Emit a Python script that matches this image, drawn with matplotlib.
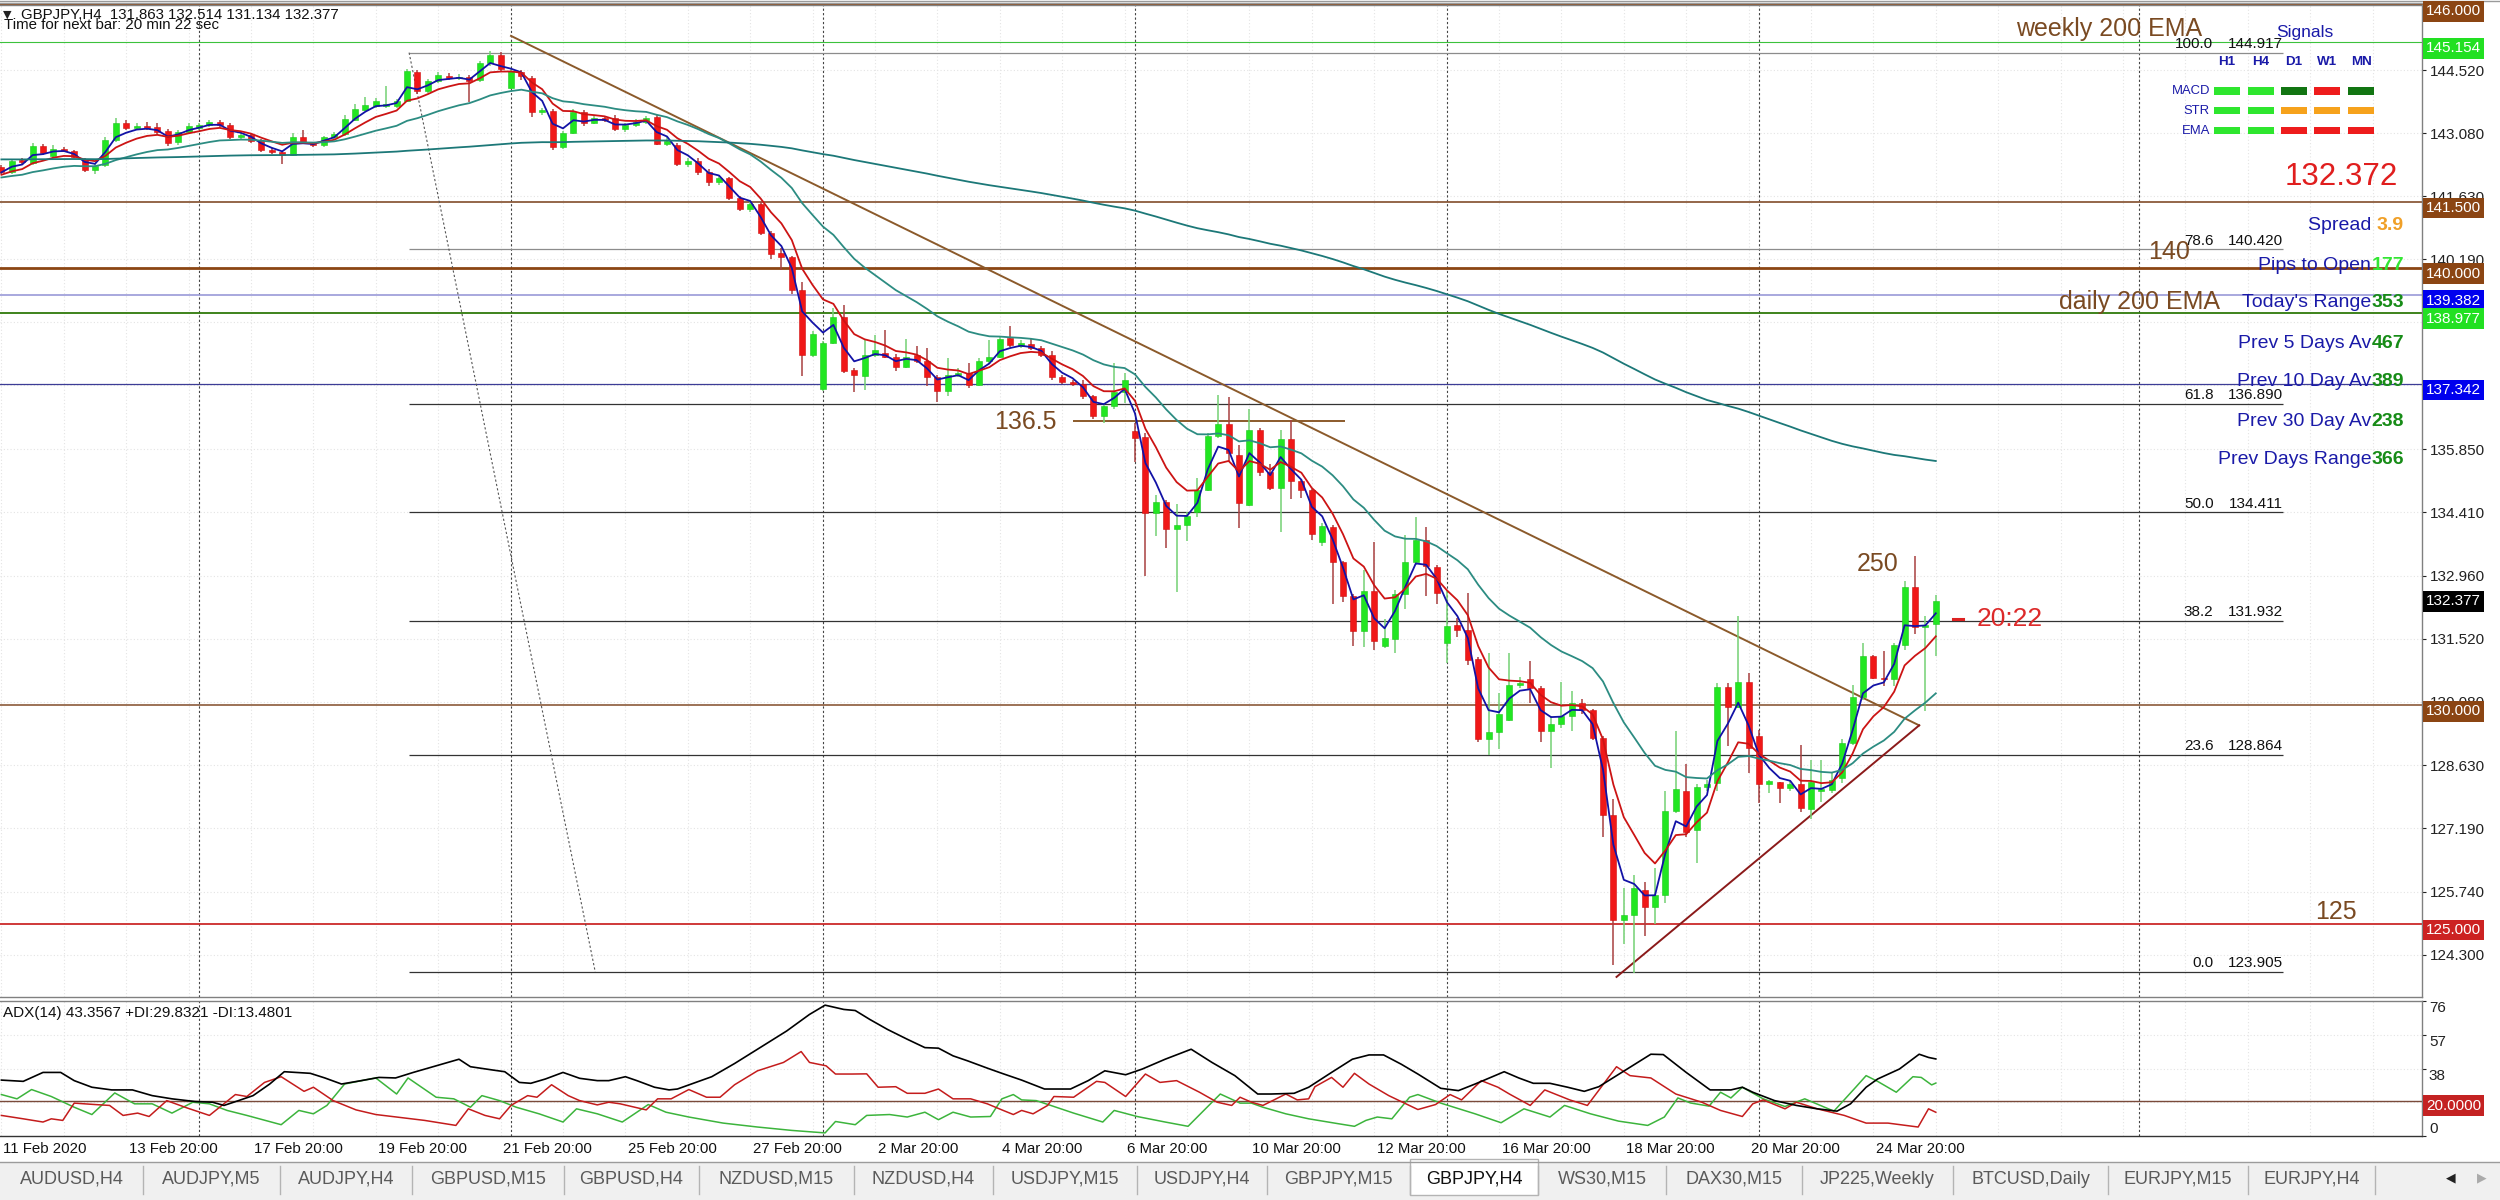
import numpy as np
import pandas as pd
import matplotlib
matplotlib.use('Agg')
import matplotlib.pyplot as plt
from matplotlib import transforms
from matplotlib.patches import Rectangle
from matplotlib.lines import Line2D

plt.rcParams['font.family'] = ['Liberation Sans', 'DejaVu Sans']

# ---------------- data (GBPJPY H4, bar 0 = 11 Feb 20:00) ----------------
opens = [142.30, 142.20, 142.47, 142.39, 142.79, 142.55, 142.72, 142.66, 142.47, 142.23,
         142.35, 142.92, 143.32, 143.19, 143.24, 143.22, 143.13, 142.87, 143.11, 143.20,
         143.27, 143.33, 143.27, 143.00, 143.03, 142.90, 142.69, 142.64, 142.58, 143.00,
         142.85, 142.81, 142.98, 143.06, 143.38, 143.61, 143.70, 143.70, 143.70, 143.82,
         144.47, 144.03, 144.26, 144.39, 144.33, 144.35, 144.30, 144.68, 144.87, 144.11,
         144.47, 144.34, 143.57, 143.59, 142.77, 143.09, 143.56, 143.31, 143.42, 143.42,
         143.17, 143.27, 143.34, 143.45, 142.84, 142.80, 142.38, 142.45, 142.20, 141.95,
         142.05, 141.60, 141.35, 141.45, 140.80, 140.33, 140.25, 139.49, 138.01, 137.23,
         138.29, 138.87, 137.67, 137.53, 138.01, 138.05, 137.97, 137.73, 138.01, 137.86,
         137.51, 137.19, 137.55, 137.59, 137.32, 137.88, 137.97, 138.40, 138.21, 138.26,
         138.16, 138.01, 137.50, 137.38, 137.35, 137.06, 136.60, 136.83, 137.17, 136.26,
         136.13, 134.40, 134.65, 134.02, 134.11, 134.41, 134.93, 136.16, 136.43, 135.73,
         134.58, 136.30, 135.33, 134.97, 136.09, 135.12, 134.91, 133.72, 134.08, 133.27,
         132.50, 131.69, 132.61, 131.36, 131.51, 132.55, 133.27, 133.77, 133.15, 131.42,
         131.84, 131.72, 131.05, 129.23, 129.39, 129.66, 130.47, 130.59, 130.40, 129.41,
         129.57, 129.75, 130.05, 129.88, 129.25, 127.49, 125.09, 125.21, 125.77, 125.39,
         125.66, 127.58, 128.05, 127.15, 128.14, 128.23, 130.42, 129.97, 130.54, 129.30,
         128.21, 128.24, 128.11, 128.21, 127.63, 128.05, 128.07, 128.34, 129.14, 130.19,
         131.12, 130.63, 130.59, 131.37, 132.71, 131.79, 131.863]
highs = [142.36, 142.48, 142.52, 142.85, 142.84, 142.80, 142.77, 142.70, 142.50, 142.38,
         143.00, 143.42, 143.37, 143.30, 143.33, 143.30, 143.18, 143.15, 143.30, 143.32,
         143.38, 143.37, 143.32, 143.10, 143.08, 142.95, 142.74, 142.68, 143.08, 143.14,
         142.88, 143.02, 143.10, 143.50, 143.75, 143.90, 143.87, 144.15, 143.86, 144.55,
         144.52, 144.32, 144.47, 144.45, 144.43, 144.40, 144.72, 144.95, 144.93, 144.55,
         144.52, 144.38, 143.66, 143.64, 143.13, 143.62, 143.60, 143.48, 143.46, 143.50,
         143.32, 143.40, 143.48, 143.50, 142.98, 142.85, 142.50, 142.50, 142.25, 142.12,
         142.08, 141.65, 141.52, 141.50, 140.85, 140.45, 140.28, 139.68, 138.55, 138.33,
         139.07, 139.15, 137.70, 138.35, 138.46, 138.58, 138.02, 138.37, 138.21, 138.16,
         137.55, 137.93, 137.70, 137.82, 137.93, 138.35, 138.45, 138.67, 138.35, 138.37,
         138.21, 138.10, 137.55, 137.44, 137.44, 137.10, 136.90, 137.82, 137.59, 136.45,
         136.22, 134.80, 134.70, 134.60, 134.41, 135.20, 136.22, 137.10, 137.05, 135.95,
         136.78, 136.34, 135.51, 136.30, 136.52, 135.15, 134.95, 134.17, 134.12, 133.30,
         132.55, 133.09, 133.72, 131.96, 132.64, 133.90, 134.31, 134.08, 133.20, 132.62,
         131.99, 132.57, 131.10, 131.19, 130.29, 131.19, 130.65, 131.01, 130.45, 129.75,
         130.52, 130.33, 130.15, 129.92, 129.30, 127.85, 125.82, 126.13, 125.95, 126.27,
         128.03, 129.41, 128.65, 128.21, 128.30, 130.51, 130.51, 132.03, 130.74, 129.43,
         128.30, 128.25, 128.26, 129.10, 128.75, 128.75, 128.45, 129.22, 130.47, 131.43,
         131.15, 131.25, 131.43, 132.84, 133.41, 132.03, 132.514]
lows = [142.14, 142.15, 142.38, 142.35, 142.58, 142.50, 142.64, 142.50, 142.18, 142.15,
        142.30, 142.88, 143.15, 143.15, 143.15, 143.05, 142.78, 142.80, 143.06, 143.15,
        143.22, 143.22, 142.95, 142.92, 142.85, 142.64, 142.60, 142.38, 142.55, 142.82,
        142.77, 142.76, 142.94, 143.02, 143.35, 143.58, 143.66, 143.66, 143.65, 143.78,
        143.98, 144.00, 144.22, 144.30, 144.30, 143.80, 144.25, 144.62, 144.50, 144.08,
        144.30, 143.45, 143.50, 142.70, 142.72, 143.05, 143.25, 143.28, 143.34, 143.12,
        143.10, 143.22, 143.28, 142.80, 142.78, 142.32, 142.30, 142.12, 141.88, 141.90,
        141.55, 141.30, 141.28, 140.75, 140.21, 139.95, 139.41, 137.53, 137.95, 137.18,
        138.25, 137.60, 137.17, 137.20, 137.95, 137.93, 137.65, 137.70, 137.82, 137.29,
        136.94, 137.06, 137.50, 137.25, 137.29, 137.80, 137.93, 138.20, 138.16, 138.12,
        137.97, 137.44, 137.35, 137.30, 137.00, 136.55, 136.45, 136.78, 136.90, 135.57,
        132.95, 133.86, 133.60, 132.59, 133.75, 134.30, 134.90, 136.10, 135.57, 134.05,
        134.55, 135.25, 134.91, 133.95, 134.72, 134.73, 133.77, 133.63, 132.32, 132.36,
        131.36, 131.33, 131.27, 131.31, 131.20, 132.19, 133.20, 132.50, 132.32, 130.97,
        131.56, 130.92, 129.16, 128.87, 129.01, 129.64, 130.40, 130.05, 129.16, 128.57,
        129.47, 129.42, 129.79, 129.20, 126.99, 124.06, 124.55, 123.88, 124.73, 125.00,
        125.48, 127.53, 126.99, 126.40, 128.05, 128.03, 129.07, 129.93, 128.44, 127.77,
        127.99, 127.77, 128.05, 127.57, 127.40, 127.78, 128.00, 128.22, 129.10, 130.13,
        130.59, 130.44, 130.44, 131.27, 131.62, 129.86, 131.134]
closes = [142.20, 142.44, 142.41, 142.79, 142.62, 142.72, 142.68, 142.53, 142.24, 142.33,
          142.92, 143.32, 143.19, 143.23, 143.20, 143.11, 142.85, 143.10, 143.24, 143.26,
          143.33, 143.27, 143.00, 143.04, 142.90, 142.69, 142.64, 142.58, 143.00, 142.86,
          142.81, 142.98, 143.06, 143.40, 143.62, 143.73, 143.82, 143.73, 143.82, 144.49,
          144.03, 144.26, 144.41, 144.34, 144.37, 144.26, 144.68, 144.87, 144.54, 144.49,
          144.38, 143.57, 143.61, 142.77, 143.08, 143.56, 143.31, 143.42, 143.38, 143.17,
          143.27, 143.34, 143.42, 142.84, 142.90, 142.38, 142.45, 142.20, 141.95, 142.05,
          141.60, 141.35, 141.45, 140.80, 140.32, 140.25, 139.49, 138.01, 138.49, 138.29,
          138.87, 137.65, 137.55, 138.01, 138.12, 137.97, 137.73, 137.97, 137.86, 137.51,
          137.19, 137.55, 137.59, 137.32, 137.88, 137.97, 138.37, 138.24, 138.27, 138.16,
          138.01, 137.50, 137.40, 137.35, 137.06, 136.60, 136.83, 137.17, 137.44, 136.11,
          134.40, 134.65, 134.02, 134.11, 134.32, 134.93, 136.16, 136.43, 135.76, 134.62,
          136.30, 135.33, 134.97, 136.09, 135.12, 134.91, 133.92, 134.10, 133.27, 132.50,
          131.69, 132.61, 131.46, 131.53, 132.55, 133.27, 133.77, 133.18, 132.57, 131.82,
          131.72, 131.04, 129.23, 129.39, 129.79, 130.47, 130.51, 130.40, 129.41, 129.57,
          129.75, 130.05, 129.88, 129.25, 127.49, 125.09, 125.21, 125.82, 125.39, 125.66,
          127.58, 128.08, 127.11, 128.14, 128.21, 130.42, 129.97, 130.54, 129.02, 128.19,
          128.26, 128.11, 128.21, 127.65, 128.25, 128.07, 128.30, 129.14, 130.19, 131.12,
          130.63, 130.59, 131.37, 132.71, 131.79, 131.84, 132.377]

# moving averages on the chart: spans and their value just before the first visible bar
ma_spans = [3, 7, 21, 200]
ma_seeds = [142.16, 142.10, 142.05, 142.48]
ma_colors = ['#1212a6', '#cc1414', '#2c8c82', '#1c7878']

# horizontal objects
lvl_prices = [146.0, 145.154, 141.5, 140.0, 139.382, 138.977, 137.342, 130.0, 125.0]
lvl_colors = ['#8B4513', '#3cc23c', '#8B5a3a', '#8B4513', '#9a9ad8', '#2f7a0a', '#3c3c96', '#8B5a3a', '#cc2a2a']
lvl_widths = [1.4, 0.8, 1.3, 2.0, 1.2, 1.3, 0.9, 1.2, 1.3]
box_prices = [146.0, 145.154, 141.5, 140.0, 139.382, 138.977, 137.342, 130.0, 125.0]
box_colors = ['#8B4513', '#22e022', '#8B4513', '#8B4513', '#0000ee', '#22e022', '#0000ee', '#8B4513', '#cc2222']
bid = 132.377

fib_levels = ['100.0', '78.6', '61.8', '50.0', '38.2', '23.6', '0.0']
fib_prices = [144.917, 140.420, 136.890, 134.411, 131.932, 128.864, 123.905]
fib_colors = ['#8c8c8c', '#8c8c8c', '#333333', '#333333', '#333333', '#333333', '#333333']

price_ticks = [144.520, 143.080, 141.630, 140.190, 138.750, 137.310, 135.850,
               134.410, 132.960, 131.520, 130.080, 128.630, 127.190, 125.740, 124.300]

# ADX(14) lines, (bar, value) pairs
adx_t = [0.0, 2.1, 4.0, 5.7, 7.0, 8.7, 10.6, 12.6, 14.5, 16.4, 18.6, 20.3, 21.4, 22.8, 24.2, 25.8, 27.2, 29.7,
         31.1, 32.7, 34.6, 36.3, 37.9, 39.6, 41.8, 44.0, 45.1, 47.3, 48.4, 49.8, 50.9, 52.3, 54.0, 55.6, 57.3,
         58.4, 60.0, 61.1, 62.8, 64.2, 65.0, 66.1, 68.3, 70.5, 72.7, 75.5, 77.7, 79.2, 81.0, 82.1, 83.5, 85.2,
         87.1, 88.8, 90.1, 91.5, 92.9, 94.8, 96.2, 98.1, 100.3, 102.8, 104.5, 106.1, 108.1, 109.7, 111.9, 114.4,
         116.4, 118.6, 120.8, 122.1, 124.3, 125.7, 127.9, 129.9, 131.5, 132.9, 134.6, 136.2, 138.4, 140.1, 141.7,
         144.5, 145.9, 147.3, 148.9, 150.6, 152.2, 153.6, 155.8, 158.6, 159.8, 162.0, 164.3, 166.3, 167.4, 168.4,
         170.5, 172.6, 174.6, 176.5, 177.8, 179.3, 180.4, 182.5, 184.4, 185.3, 186.0]
adx_v = [31.5, 30.8, 35.8, 35.8, 31.2, 27.5, 26.0, 26.0, 22.8, 21.0, 19.5, 19.1, 17.3, 20.0, 22.8, 29.3, 36.2, 35.3,
         32.7, 29.3, 31.2, 33.0, 32.7, 35.8, 39.5, 43.2, 39.0, 37.1, 36.2, 30.2, 29.7, 32.1, 35.8, 32.5, 31.2,
         31.2, 33.4, 31.2, 27.5, 26.0, 26.5, 28.8, 33.4, 40.8, 48.8, 59.0, 68.3, 73.5, 71.1, 70.5, 65.5, 59.9,
         54.4, 49.7, 49.4, 45.1, 42.3, 38.2, 35.3, 31.5, 26.5, 26.5, 31.2, 36.7, 34.5, 37.7, 43.2, 48.8,
         41.4, 34.0, 23.7, 23.7, 24.1, 27.5, 35.8, 43.2, 45.6, 45.6, 40.4, 34.9, 26.9, 25.6, 29.3,
         36.2, 32.7, 29.7, 29.7, 27.5, 25.2, 27.8, 35.8, 46.0, 45.8, 35.8, 26.0, 26.0, 27.5, 24.7,
         20.0, 17.3, 15.4, 14.1, 18.2, 27.5, 32.1, 37.7, 46.0, 44.2, 43.36]
pdi_t = [0.0, 1.5, 2.9, 4.8, 7.0, 8.7, 10.9, 12.8, 14.5, 16.4, 18.4, 20.0, 21.7, 23.6, 26.9, 28.6, 30.0, 31.3,
         33.0, 34.9, 36.0, 38.0, 39.1, 41.8, 43.5, 45.1, 46.2, 47.9, 49.5, 51.7, 54.0, 55.3, 57.3, 59.7, 62.2,
         63.9, 66.1, 69.4, 72.7, 76.0, 79.2, 80.2, 82.1, 83.2, 85.4, 87.1, 88.8, 90.1, 91.5, 93.2, 95.1, 96.2,
         97.3, 98.1, 99.5, 100.9, 103.1, 105.9, 107.0, 109.2, 111.9, 114.1, 116.1, 117.2, 119.1, 120.2, 121.3,
         123.5, 125.7, 128.5, 130.1, 131.2, 132.3, 133.7, 135.4, 136.2, 138.4, 141.7, 144.2, 146.4, 148.9,
         150.3, 152.8, 155.5, 158.3, 159.9, 161.2, 162.4, 164.2, 165.3, 166.3, 167.4, 169.4, 171.5, 173.4,
         176.2, 178.3, 179.3, 180.4, 182.2, 183.8, 184.6, 185.6, 186.0]
pdi_v = [23.4, 21.0, 26.2, 22.3, 16.3, 12.2, 24.3, 18.2, 18.2, 13.0, 19.1, 18.2, 14.5, 11.7, 6.5, 14.5, 12.6, 17.3,
         29.3, 31.5, 32.7, 23.7, 32.7, 21.9, 21.0, 16.3, 22.8, 20.0, 16.3, 12.6, 8.0, 15.4, 12.6, 8.0, 17.8,
         13.5, 10.8, 7.4, 5.2, 3.3, 1.9, 8.3, 6.5, 11.7, 12.2, 10.8, 13.5, 9.3, 13.5, 10.8, 11.1, 21.0,
         23.4, 20.4, 20.0, 17.3, 13.0, 8.0, 14.5, 11.1, 8.0, 5.6, 17.3, 23.7, 18.6, 18.6, 16.3,
         12.6, 9.8, 7.1, 5.6, 8.9, 10.8, 9.8, 21.9, 23.4, 18.6, 12.6, 7.6, 15.4, 10.8,
         17.3, 12.6, 8.5, 6.1, 10.8, 21.5, 18.7, 16.9, 24.7, 21.5, 27.5, 21.0, 16.7, 21.0,
         14.1, 27.5, 34.0, 30.8, 24.7, 33.4, 33.0, 28.8, 29.83]
mdi_t = [0.0, 2.1, 4.0, 4.8, 5.9, 7.0, 9.0, 10.4, 11.7, 13.1, 14.2, 15.9, 17.8, 20.0, 22.5, 23.6, 25.3, 26.9,
         29.1, 30.0, 31.9, 34.1, 36.0, 38.0, 40.7, 43.7, 44.9, 46.5, 47.9, 49.0, 50.6, 51.5, 52.9, 54.5, 55.6,
         57.3, 58.4, 59.5, 62.0, 63.1, 64.4, 66.1, 67.8, 69.1, 70.5, 72.7, 75.2, 76.9, 77.7, 79.3, 80.2, 81.8,
         83.2, 84.3, 86.0, 87.1, 88.8, 90.1, 91.5, 93.2, 94.8, 96.2, 97.3, 98.1, 99.2, 100.6, 101.2, 103.1,
         105.3, 106.1, 108.1, 110.0, 111.4, 113.0, 115.2, 116.9, 118.3, 119.1, 120.2, 121.3, 123.5, 124.6,
         125.7, 126.3, 127.9, 129.0, 130.1, 131.5, 133.4, 136.2, 137.9, 139.3, 140.4, 142.3, 143.9, 145.0,
         147.0, 148.4, 150.8, 152.5, 155.3, 156.6, 158.6, 161.0, 163.5, 165.3, 167.4, 168.4, 169.4, 171.5,
         172.6, 174.6, 177.2, 179.3, 181.4, 184.3, 185.3, 186.0]
mdi_v = [11.7, 9.8, 8.0, 9.8, 8.9, 18.6, 17.8, 17.3, 11.7, 13.0, 11.1, 20.0, 16.0, 11.7, 23.4, 22.3, 30.2, 33.4,
         25.2, 27.5, 20.0, 14.8, 12.2, 10.8, 8.9, 6.1, 15.4, 11.7, 9.8, 17.3, 22.8, 21.9, 28.9, 22.8, 20.0,
         17.6, 19.1, 18.2, 14.8, 21.0, 21.0, 26.2, 21.9, 21.9, 28.9, 36.7, 41.4, 47.5, 41.4, 39.5, 34.9, 34.9,
         35.0, 27.5, 27.8, 24.1, 24.1, 26.5, 21.0, 21.0, 18.2, 14.8, 12.2, 14.5, 12.6, 17.3, 22.3, 21.9,
         30.8, 30.2, 22.3, 34.9, 30.2, 31.2, 24.7, 19.1, 17.3, 21.9, 19.1, 17.3, 23.7, 20.4,
         21.0, 27.8, 33.0, 27.5, 35.3, 29.3, 22.8, 15.0, 17.8, 23.4, 20.4, 31.2, 27.5, 23.7,
         17.3, 26.0, 20.4, 17.3, 39.0, 34.0, 32.7, 23.7, 19.1, 14.5, 11.1, 18.2, 20.4, 15.4,
         19.1, 15.4, 11.7, 7.4, 7.4, 5.2, 15.4, 13.48]

date_labels = ['11 Feb 2020', '13 Feb 20:00', '17 Feb 20:00', '19 Feb 20:00', '21 Feb 20:00',
               '25 Feb 20:00', '27 Feb 20:00', '2 Mar 20:00', '4 Mar 20:00', '6 Mar 20:00',
               '10 Mar 20:00', '12 Mar 20:00', '16 Mar 20:00', '18 Mar 20:00', '20 Mar 20:00',
               '24 Mar 20:00']
week_starts = [19, 49, 79, 109, 139, 169, 205.5]

tabs = ['AUDUSD,H4', 'AUDJPY,M5', 'AUDJPY,H4', 'GBPUSD,M15', 'GBPUSD,H4', 'NZDUSD,M15',
        'NZDUSD,H4', 'USDJPY,M15', 'USDJPY,H4', 'GBPJPY,M15', 'GBPJPY,H4', 'WS30,M15',
        'DAX30,M15', 'JP225,Weekly', 'BTCUSD,Daily', 'EURJPY,M15', 'EURJPY,H4']
active_tab = 'GBPJPY,H4'

info_labels = ['Spread ', 'Pips to Open', "Today's Range", 'Prev 5 Days Av', 'Prev 10 Day Av',
               'Prev 30 Day Av', 'Prev Days Range']
info_values = ['3.9', '177', '353', '467', '389', '238', '366']
info_colors = ['#f0a028', '#33e633', '#178c17', '#178c17', '#178c17', '#178c17', '#178c17']

sig_cols = ['H1', 'H4', 'D1', 'W1', 'MN']
sig_rows = ['MACD', 'STR', 'EMA']
sig_state = [['#2ee62e', '#2ee62e', '#127512', '#ee1c1c', '#127512'],
             ['#2ee62e', '#2ee62e', '#f6a21c', '#f6a21c', '#f6a21c'],
             ['#2ee62e', '#2ee62e', '#ee1c1c', '#ee1c1c', '#ee1c1c']]

# ---------------- figure ----------------
W, H = 2500, 1200
fig = plt.figure(figsize=(25, 12), dpi=100)
fig.patch.set_facecolor('white')


def fx(px):
    return px / W


def fy(py):
    return 1 - py / H


XL = (-0.135, 232.75)
main_top, main_bot = 5, 997
adx_top, adx_bot = 1000.7, 1136.3
ax = fig.add_axes([0, fy(main_bot), fx(2422), (main_bot - main_top) / H])
axa = fig.add_axes([0, fy(adx_bot), fx(2422), (adx_bot - adx_top) / H])

for a in (ax, axa):
    a.set_xlim(*XL)
    a.set_facecolor('white')
    a.spines['left'].set_visible(False)
    for s in ('top', 'right', 'bottom'):
        a.spines[s].set_color('#808080')
        a.spines[s].set_linewidth(1.0)
    a.set_xticks([])
    for b in np.arange(0, 232, 6):
        a.axvline(b, color='#e4e4e4', lw=0.8, ls=(0, (1, 2)), zorder=0)
    for b in week_starts:
        a.axvline(b, color='#444444', lw=0.8, ls=(0, (2, 2)), zorder=1)
axa.spines['bottom'].set_color('#333333')

ax.set_ylim(123.331, 146.006)
ax.yaxis.tick_right()
ax.set_yticks(price_ticks)
ax.set_yticklabels(['%.3f' % t for t in price_ticks])
ax.tick_params(axis='y', direction='out', length=3, width=0.8, pad=3, labelsize=11,
               colors='#222222')
for t in price_ticks:
    ax.axhline(t, color='#e4e4e4', lw=0.8, ls=(0, (1, 2)), zorder=0)

# levels
for p, c, w in zip(lvl_prices, lvl_colors, lvl_widths):
    ax.axhline(p, color=c, lw=w, zorder=2, clip_on=False)

# fibonacci
for lv, p, c in zip(fib_levels, fib_prices, fib_colors):
    ax.hlines(p, 39.2, 219.4, color=c, lw=0.9, zorder=2)
    ax.text(212.7, p + 0.04, lv, ha='right', va='bottom', fontsize=11, color='#111111', zorder=6)
    ax.text(219.4, p + 0.04, '%.3f' % p, ha='right', va='bottom', fontsize=11, color='#111111', zorder=6)
ax.plot([39.2, 57.1], [fib_prices[0], fib_prices[-1]], color='#555555', lw=0.8, ls=(0, (2, 2)), zorder=2)

# trend lines
ax.plot([49.0, 184.4], [145.30, 129.54], color='#8b5a2b', lw=1.4, zorder=3)
ax.plot([155.3, 184.4], [123.79, 129.54], color='#8b1a1a', lw=1.4, zorder=3)
ax.hlines(136.5, 103.0, 129.2, color='#8b5a2b', lw=1.4, zorder=3)

# candles
o = np.array(opens)
h = np.array(highs)
l = np.array(lows)
c = np.array(closes)
idx = np.arange(len(c))
up = c >= o
bot = np.minimum(o, c)
hgt = np.maximum(np.abs(c - o), 0.035)
ax.vlines(idx[up], l[up], h[up], color='#74d174', lw=1.1, zorder=4)
ax.vlines(idx[~up], l[~up], h[~up], color='#a84040', lw=1.1, zorder=4)
ax.bar(idx[up], hgt[up], bottom=bot[up], width=0.56, color='#22e622', edgecolor='#1cc81c', lw=0.4, zorder=5)
ax.bar(idx[~up], hgt[~up], bottom=bot[~up], width=0.56, color='#f01818', edgecolor='#d01010', lw=0.4, zorder=5)

# moving averages
for span, seed, col in zip(ma_spans, ma_seeds, ma_colors):
    ema = pd.Series([seed] + closes).ewm(span=span, adjust=False).mean().iloc[1:].values
    ax.plot(idx, ema, color=col, lw=1.3, zorder=6)

# countdown
ax.plot([187.7, 188.6], [131.96, 131.96], color='#dd2222', lw=2.2, zorder=6)
ax.text(189.9, 131.96, '20:22', color='#dd2a2a', fontsize=19, ha='left', va='center', zorder=7)

# brown annotations
brown = '#7a4a22'
ax.text(101.5, 136.47, '136.5', color=brown, fontsize=18, ha='right', va='center', zorder=7)
ax.text(180.4, 133.22, '250', color=brown, fontsize=18, ha='center', va='center', zorder=7)
ax.text(224.5, 125.27, '125', color=brown, fontsize=18, ha='center', va='center', zorder=7)
ax.text(210.4, 140.37, '140', color=brown, fontsize=18, ha='right', va='center', zorder=7)
ax.text(211.6, 145.45, 'weekly 200 EMA', color=brown, fontsize=18, ha='right', va='center', zorder=7)
ax.text(213.3, 139.22, 'daily 200 EMA', color=brown, fontsize=18, ha='right', va='center', zorder=7)

# price boxes on the right scale
def price_box(axis, val, txt, col, dy_px):
    tr = transforms.blended_transform_factory(fig.transFigure, axis.transData)
    tr = transforms.offset_copy(tr, fig=fig, x=0, y=dy_px, units='dots')
    fig.text(fx(2426), val, txt, transform=tr, ha='left', va='center', fontsize=11, color='white',
             bbox=dict(boxstyle='square,pad=0.22', fc=col, ec='none'), zorder=10)


for p, col in zip(box_prices, box_colors):
    price_box(ax, p, '%.3f' % p, col, -6)
price_box(ax, bid, '%.3f' % bid, '#000000', 0)

# ---------------- ADX panel ----------------
axa.set_ylim(0, 76)
axa.yaxis.tick_right()
axa.set_yticks([0, 19, 38, 57, 76])
axa.set_yticklabels(['0', '19', '38', '57', '76'])
axa.tick_params(axis='y', direction='out', length=3, width=0.8, pad=2, labelsize=11, colors='#222222')
for lab in axa.get_yticklabels():
    lab.set_va('top')
axa.get_yticklabels()[0].set_va('bottom')
for t in (19, 38, 57):
    axa.axhline(t, color='#e4e4e4', lw=0.8, ls=(0, (1, 2)), zorder=0)
axa.axhline(20, color='#7a4a3a', lw=1.0, zorder=2)
axa.plot(adx_t, adx_v, color='#000000', lw=1.2, zorder=4)
axa.plot(pdi_t, pdi_v, color='#3cb43c', lw=1.1, zorder=3)
axa.plot(mdi_t, mdi_v, color='#c41c1c', lw=1.1, zorder=3)
price_box(axa, 20, '20.0000', '#c42222', -5)
fig.text(fx(3), fy(1013), 'ADX(14) 43.3567 +DI:29.8321 -DI:13.4801', fontsize=11, color='#111111',
         ha='left', va='center')

# time labels
trx = transforms.blended_transform_factory(axa.transData, fig.transFigure)
for k, lab in enumerate(date_labels):
    xb = 0.25 + 12 * k if k else 0.15
    fig.text(xb, fy(1149), lab, transform=trx, fontsize=10.8, color='#111111', ha='left', va='center')

# ---------------- header ----------------
fig.add_artist(Line2D([0, 1], [fy(1), fy(1)], color='#9a9a9a', lw=1.0))
fig.add_artist(Line2D([0, fx(2422)], [fy(3), fy(3)], color='#9a9a9a', lw=1.0))
fig.text(fx(3), fy(15), '\u25bc', fontsize=8, color='#222222', ha='left', va='center',
         family=['DejaVu Sans'])
fig.text(fx(21), fy(15), 'GBPJPY,H4  131.863 132.514 131.134 132.377', fontsize=10.8,
         color='#111111', ha='left', va='center')
fig.text(fx(4), fy(25), 'Time for next bar: 20 min 22 sec', fontsize=10.8, color='#111111',
         ha='left', va='center')

# ---------------- signals / info panel ----------------
navy = '#1a1aa8'
fig.text(fx(2305), fy(33), 'Signals', fontsize=12.5, color=navy, ha='center', va='center')
col_x = [2214, 2248, 2281, 2314, 2348]
row_y = [91, 110.5, 130.5]
for cx, name in zip(col_x, sig_cols):
    fig.text(fx(cx + 13), fy(62), name, fontsize=9.6, fontweight='bold', color=navy, ha='center', va='center')
for ry, name, states in zip(row_y, sig_rows, sig_state):
    fig.text(fx(2210), fy(ry), name, fontsize=9.4, color=navy, ha='right', va='center')
    for cx, col in zip(col_x, states):
        fig.add_artist(Rectangle((fx(cx), fy(ry + 3.8)), 26 / W, 7.6 / H, transform=fig.transFigure,
                                 fc=col, ec='none'))
fig.text(fx(2398), fy(177), '132.372', fontsize=22.5, color='#e01e1e', ha='right', va='center')

renderer = fig.canvas.get_renderer()
info_y = [226, 265, 303, 343, 382, 421, 460]
for yy, lab, val, vc in zip(info_y, info_labels, info_values, info_colors):
    tv = fig.text(fx(2404), fy(yy), val, fontsize=14, fontweight='bold', color=vc, ha='right', va='center')
    bb = tv.get_window_extent(renderer=renderer)
    fig.text(bb.x0 / W, fy(yy), lab, fontsize=14, color=navy, ha='right', va='center')

# ---------------- tab bar ----------------
edges = [0, 143, 280, 412, 564, 699, 854, 993, 1137, 1267, 1410, 1538, 1666, 1802, 1953, 2108, 2248, 2375]
fig.add_artist(Rectangle((0, 0), 1, fy(1162), transform=fig.transFigure, fc='#f0f0f0', ec='none'))
fig.add_artist(Line2D([0, 1], [fy(1162), fy(1162)], color='#9c9c9c', lw=1.0))
for k, name in enumerate(tabs):
    x0, x1 = edges[k], edges[k + 1]
    if name == active_tab:
        fig.add_artist(Rectangle((fx(x0), fy(1195)), (x1 - x0) / W, 36 / H, transform=fig.transFigure,
                                 fc='white', ec='#b4b4b4', lw=1.0))
        tc = '#111111'
    else:
        tc = '#5a5a5a'
    fig.text(fx((x0 + x1) / 2), fy(1179), name, fontsize=13, color=tc, ha='center', va='center')
for e in edges[1:]:
    fig.add_artist(Line2D([fx(e), fx(e)], [fy(1166), fy(1194)], color='#b4b4b4', lw=1.0))
fig.text(fx(2451), fy(1178), '\u25c0', fontsize=9, color='#222222', ha='center', va='center',
         family=['DejaVu Sans'])
fig.text(fx(2482), fy(1178), '\u25b6', fontsize=9, color='#aaaaaa', ha='center', va='center',
         family=['DejaVu Sans'])

fig.savefig('out.png', dpi=100, facecolor='white')
